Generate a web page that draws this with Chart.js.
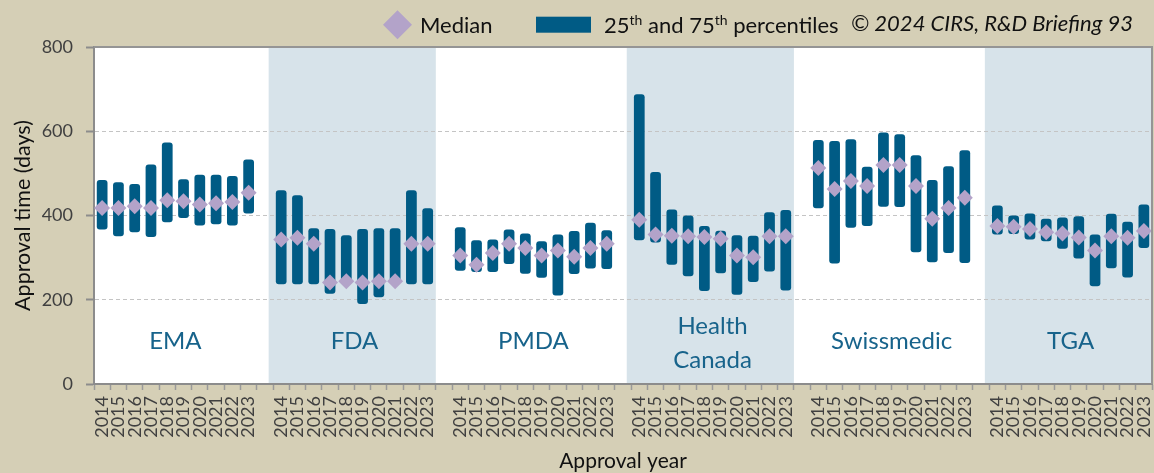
<!DOCTYPE html>
<html>
<head>
<meta charset="utf-8">
<script src="https://cdn.jsdelivr.net/npm/chart.js@4.4.1/dist/chart.umd.min.js"></script>
<style>
html,body{margin:0;padding:0;background:#d5cfb6;overflow:hidden;}
#wrap{position:relative;width:1154px;height:473px;}
</style>
</head>
<body>
<div id="wrap"><canvas id="c" width="1154" height="473"></canvas></div>
<script>
// ---- data (days) ----
const agencies = ['EMA', 'FDA', 'PMDA', 'Health Canada', 'Swissmedic', 'TGA'];
const years = ['2014','2015','2016','2017','2018','2019','2020','2021','2022','2023'];

const emaP25    = [367, 351, 360, 349, 384, 394, 376, 379, 376, 405];
const emaP75    = [484, 479, 475, 521, 573, 486, 497, 497, 494, 533];
const emaMedian = [418, 418, 422, 418, 436, 434, 426, 429, 432, 454];

const fdaP25    = [237, 237, 237, 214, 237, 190, 206, 237, 237, 237];
const fdaP75    = [460, 448, 370, 368, 353, 368, 370, 370, 460, 417];
const fdaMedian = [343, 347, 333, 241, 244, 241, 244, 244, 333, 333];

const pmdaP25    = [269, 266, 266, 285, 262, 252, 210, 261, 274, 273];
const pmdaP75    = [372, 341, 343, 367, 357, 339, 355, 363, 383, 365];
const pmdaMedian = [305, 283, 311, 333, 323, 305, 317, 302, 323, 333];

const hcP25    = [341, 336, 283, 256, 221, 263, 212, 242, 267, 222];
const hcP75    = [688, 503, 414, 400, 375, 364, 353, 352, 408, 413];
const hcMedian = [390, 355, 352, 351, 349, 345, 305, 301, 351, 351];

const swissP25    = [417, 286, 371, 375, 421, 420, 313, 289, 311, 287];
const swissP75    = [579, 577, 581, 516, 597, 593, 543, 484, 517, 555];
const swissMedian = [513, 463, 482, 470, 520, 520, 470, 392, 418, 442];

const tgaP25    = [355, 356, 343, 339, 321, 298, 232, 275, 253, 323];
const tgaP75    = [424, 400, 405, 392, 395, 398, 355, 404, 385, 426];
const tgaMedian = [375, 373, 368, 360, 357, 348, 317, 351, 347, 363];

const yTicks = [0, 200, 400, 600, 800];

const p25Sets = [emaP25, fdaP25, pmdaP25, hcP25, swissP25, tgaP25];
const p75Sets = [emaP75, fdaP75, pmdaP75, hcP75, swissP75, tgaP75];
const medSets = [emaMedian, fdaMedian, pmdaMedian, hcMedian, swissMedian, tgaMedian];

// ---- build category table (one blank category between agencies) ----
const labels = [], ranges = [], medians = [], groupStart = [];
agencies.forEach((a, ai) => {
  if (ai > 0) { labels.push(''); ranges.push(null); medians.push(null); }
  groupStart.push(labels.length);
  years.forEach((y, i) => {
    labels.push(y);
    ranges.push([p25Sets[ai][i], p75Sets[ai][i]]);
    medians.push(medSets[ai][i]);
  });
});

// ---- styles ----
const BG = '#d5cfb6';
const BAND = '#d7e3ea';
const BAR = '#005b85';
const DIAMOND = '#b3a3c9';
const AGENCY_COLOR = '#17638b';
const FONT = 'Lato, "Open Sans", sans-serif';

const bgPlugin = {
  id: 'bg',
  beforeDraw(chart) {
    const {ctx, chartArea: ca, scales: {x}} = chart;
    ctx.save();
    ctx.fillStyle = BG;
    ctx.fillRect(0, 0, chart.width, chart.height);
    ctx.fillStyle = '#ffffff';
    ctx.fillRect(ca.left, ca.top, ca.right - ca.left, ca.bottom - ca.top);
    const cw = x.getPixelForValue(1) - x.getPixelForValue(0);
    ctx.fillStyle = BAND;
    [1, 3, 5].forEach(ai => {
      const s = groupStart[ai], e = s + years.length - 1;
      const left = x.getPixelForValue(s) - cw / 2 - 0.27 * cw;
      const right = Math.min(x.getPixelForValue(e) + cw / 2, ca.right);
      ctx.fillRect(left, ca.top, right - left, ca.bottom - ca.top);
    });
    ctx.restore();
  }
};

const agencyLabelPlugin = {
  id: 'agencyLabels',
  beforeDatasetsDraw(chart) {
    const {ctx, scales: {x, y}} = chart;
    ctx.save();
    ctx.fillStyle = AGENCY_COLOR;
    ctx.font = '24px ' + FONT;
    ctx.textAlign = 'center';
    ctx.textBaseline = 'alphabetic';
    agencies.forEach((a, ai) => {
      const cx = (x.getPixelForValue(groupStart[ai] + 4) + x.getPixelForValue(groupStart[ai] + 5)) / 2;
      if (a === 'Health Canada') {
        ctx.fillText('Health', cx, y.getPixelForValue(118));
        ctx.fillText('Canada', cx, y.getPixelForValue(39));
      } else {
        ctx.fillText(a, cx, y.getPixelForValue(82));
      }
    });
    ctx.restore();
  }
};

const frameLegendPlugin = {
  id: 'frameLegend',
  afterDraw(chart) {
    const {ctx, chartArea: ca} = chart;
    ctx.save();
    // top and right frame lines
    ctx.strokeStyle = '#959595';
    ctx.lineWidth = 2;
    ctx.beginPath();
    ctx.moveTo(ca.left, ca.top);
    ctx.lineTo(ca.right, ca.top);
    ctx.lineTo(ca.right, ca.bottom);
    ctx.stroke();

    // legend
    ctx.fillStyle = DIAMOND;
    ctx.beginPath();
    const dx = 397.5, dy = 24.7, r = 14.5;
    ctx.moveTo(dx - r, dy); ctx.lineTo(dx, dy - r); ctx.lineTo(dx + r, dy); ctx.lineTo(dx, dy + r);
    ctx.closePath(); ctx.fill();

    ctx.fillStyle = '#111';
    ctx.textBaseline = 'alphabetic';
    ctx.textAlign = 'left';
    ctx.font = '22px ' + FONT;
    ctx.fillText('Median', 420, 32.7);

    ctx.fillStyle = BAR;
    ctx.fillRect(536, 16.7, 55, 16);

    ctx.fillStyle = '#111';
    let lx = 604;
    const parts = [['25', false], ['th', true], [' and 75', false], ['th', true], [' percentiles', false]];
    parts.forEach(([t, sup]) => {
      ctx.font = (sup ? '14px ' : '22px ') + FONT;
      ctx.fillText(t, lx, sup ? 24.5 : 32.7);
      lx += ctx.measureText(t).width;
    });

    ctx.font = 'italic 22px ' + FONT;
    ctx.textAlign = 'right';
    ctx.fillText('\u00A9 2024 CIRS, R&D Briefing 93', 1133, 30.5);
    ctx.restore();
  }
};

Chart.defaults.font.family = FONT;

new Chart(document.getElementById('c'), {
  type: 'bar',
  data: {
    labels: labels,
    datasets: [
      {
        type: 'line',
        label: 'Median',
        data: medians,
        showLine: false,
        pointStyle: 'rectRot',
        pointRadius: 8,
        pointHoverRadius: 8,
        pointBackgroundColor: DIAMOND,
        pointBorderWidth: 0,
        pointBorderColor: DIAMOND,
        order: 0
      },
      {
        type: 'bar',
        label: '25th and 75th percentiles',
        data: ranges,
        backgroundColor: BAR,
        borderWidth: 0,
        borderRadius: 3,
        borderSkipped: false,
        barPercentage: 0.66,
        categoryPercentage: 1.0,
        order: 1
      }
    ]
  },
  options: {
    responsive: false,
    devicePixelRatio: 1,
    animation: false,
    events: [],
    layout: { autoPadding: false, padding: { top: 47, left: 0, right: 2, bottom: 0 } },
    plugins: {
      legend: { display: false },
      tooltip: { enabled: false },
      title: { display: false }
    },
    scales: {
      x: {
        offset: true,
        grid: {
          display: true,
          drawOnChartArea: false,
          offset: true,
          drawTicks: true,
          tickLength: 6,
          tickColor: '#9a9a9a',
          tickWidth: 1.5
        },
        border: { display: true, color: '#8c8c8c', width: 2 },
        ticks: {
          autoSkip: false,
          maxRotation: 90,
          minRotation: 90,
          padding: 6,
          color: '#404040',
          font: { size: 18, family: FONT }
        },
        title: {
          display: true,
          text: 'Approval year',
          color: '#111',
          font: { size: 21, family: FONT },
          padding: { top: 0, bottom: -1 }
        },
        afterFit(s) { s.height = 89; s.paddingLeft = 0; s.paddingRight = 0; }
      },
      y: {
        min: yTicks[0],
        max: yTicks[yTicks.length - 1],
        afterBuildTicks(s) { s.ticks = yTicks.map(v => ({ value: v })); },
        grid: {
          color: c => (c.tick && (c.tick.value === 0 || c.tick.value === 800)) ? 'rgba(0,0,0,0)' : '#c4c4c4',
          lineWidth: 1,
          tickColor: '#8c8c8c',
          tickLength: 8,
          tickWidth: 2,
          drawTicks: true
        },
        border: { display: true, color: '#8c8c8c', width: 2, dash: [4, 3] },
        ticks: {
          padding: 13,
          color: '#404040',
          font: { size: 18, family: FONT }
        },
        title: {
          display: true,
          text: 'Approval time (days)',
          color: '#111',
          font: { size: 21.5, family: FONT },
          padding: { top: 10, bottom: 0 }
        },
        afterFit(s) { s.width = 94; s.paddingTop = 0; s.paddingBottom = 0; }
      }
    }
  },
  plugins: [bgPlugin, agencyLabelPlugin, frameLegendPlugin]
});
</script>
</body>
</html>
